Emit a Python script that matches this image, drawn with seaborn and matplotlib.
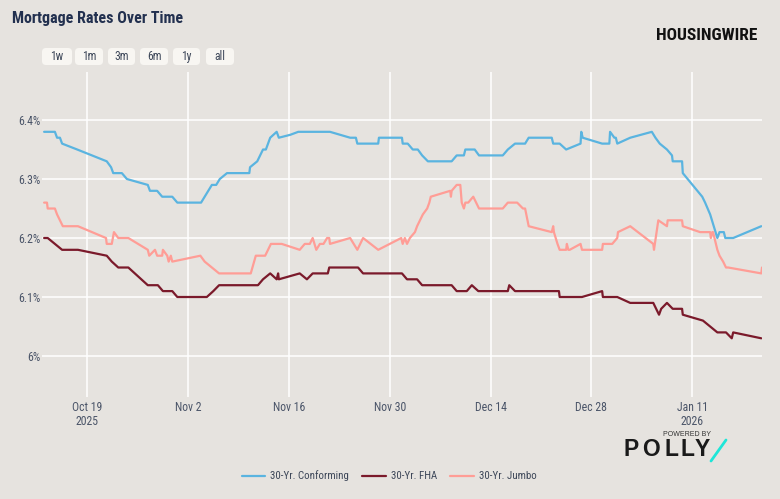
import pandas as pd
import matplotlib.pyplot as plt
import seaborn as sns
from matplotlib.patches import FancyBboxPatch
from matplotlib.lines import Line2D
from matplotlib import font_manager

# -----------------------------------------------------
# DATA (days counted from START, rates in %)
# -----------------------------------------------------
START = pd.Timestamp('2025-10-13')

conf_days = [0, 1.5, 1.8, 2.2, 2.5, 4.6, 8.7, 9.3, 9.6, 10.8, 11.5, 14.4, 14.7, 15.7,
             16.4, 17.8, 18.5, 21.8, 22.3, 23.3, 23.9, 24.4, 25.4, 28.5, 28.6, 29.6,
             30.4, 30.8, 31.4, 32.3, 32.6, 34.2, 35.3, 39.7, 42.5, 43.3, 43.5, 46.4,
             46.5, 49.7, 49.8, 50.5, 51.2, 51.9, 52.5, 53.3, 56.6, 57.3, 58.3, 58.5,
             59.8, 60.4, 63.7, 64.4, 65.4, 66.8, 67.3, 70.5, 70.7, 71.6, 72.5, 74.5,
             74.6, 74.8, 77.5, 78.5, 78.6, 79.2, 79.4, 79.6, 81.4, 84.4, 84.9, 85.5,
             86.5, 87.2, 87.3, 88.6, 88.7, 91.4, 91.8, 92.5, 93.5, 93.8, 94.4, 94.6,
             95.7, 99.6]
conf_rates = [6.38, 6.38, 6.37, 6.37, 6.36, 6.35, 6.33, 6.32, 6.31, 6.31, 6.30, 6.29, 6.28, 6.28,
              6.27, 6.27, 6.26, 6.26, 6.27, 6.29, 6.29, 6.30, 6.31, 6.31, 6.32, 6.33,
              6.35, 6.35, 6.37, 6.38, 6.37, 6.375, 6.38, 6.38, 6.37, 6.37, 6.36, 6.36,
              6.37, 6.37, 6.36, 6.36, 6.35, 6.35, 6.34, 6.33, 6.33, 6.34, 6.34, 6.35,
              6.35, 6.34, 6.34, 6.35, 6.36, 6.36, 6.37, 6.37, 6.36, 6.36, 6.35, 6.36,
              6.38, 6.37, 6.36, 6.36, 6.38, 6.37, 6.37, 6.36, 6.37, 6.38, 6.37, 6.36,
              6.35, 6.34, 6.33, 6.33, 6.31, 6.27, 6.26, 6.24, 6.20, 6.21, 6.21, 6.20,
              6.20, 6.22]

fha_days = [0, 0.5, 1.5, 2.5, 4.7, 8.7, 9.4, 10.3, 11.7, 14.4, 15.8, 16.5, 17.8, 18.5,
            22.6, 23.5, 24.3, 29.7, 30.4, 31.4, 32.3, 32.5, 32.6, 35.5, 36.5, 37.3,
            39.4, 39.6, 43.6, 44.3, 49.7, 50.4, 51.8, 52.5, 56.6, 57.3, 58.7, 59.4,
            60.3, 64.4, 64.6, 65.4, 71.5, 71.6, 74.7, 77.5, 77.6, 79.6, 81.4, 84.6,
            85.4, 85.7, 86.5, 87.3, 88.6, 88.7, 91.5, 92.5, 93.5, 94.7, 95.5, 95.7,
            99.6]
fha_rates = [6.20, 6.20, 6.19, 6.18, 6.18, 6.17, 6.16, 6.15, 6.15, 6.12, 6.12, 6.11, 6.11, 6.10,
             6.10, 6.11, 6.12, 6.12, 6.13, 6.14, 6.13, 6.14, 6.13, 6.14, 6.13, 6.14,
             6.14, 6.15, 6.15, 6.14, 6.14, 6.13, 6.13, 6.12, 6.12, 6.11, 6.11, 6.12,
             6.11, 6.11, 6.12, 6.11, 6.11, 6.10, 6.10, 6.11, 6.10, 6.10, 6.09, 6.09,
             6.07, 6.08, 6.09, 6.08, 6.08, 6.07, 6.06, 6.05, 6.04, 6.04, 6.03, 6.04,
             6.03]

jumbo_days = [0, 0.4, 0.5, 1.5, 1.8, 2.2, 2.6, 4.7, 8.6, 8.7, 9.4, 9.7, 10.3, 11.7,
              14.4, 14.6, 15.4, 15.7, 16.4, 16.5, 17.1, 17.3, 17.6, 17.8, 21.7, 22.3,
              23.3, 24.3, 28.7, 29.4, 30.7, 31.5, 33.0, 35.5, 36.2, 36.9, 37.3, 37.8,
              38.3, 38.8, 39.3, 39.6, 39.7, 42.5, 43.5, 44.3, 46.4, 49.6, 49.8, 50.1,
              50.4, 50.8, 51.5, 51.8, 52.2, 52.6, 53.2, 53.5, 53.7, 56.4, 56.5, 56.6,
              57.3, 57.8, 58.0, 58.3, 58.5, 58.9, 59.6, 60.4, 63.7, 64.4, 65.7, 66.5,
              66.8, 67.3, 70.5, 70.7, 70.8, 71.3, 71.6, 72.5, 72.6, 72.8, 73.0, 74.5,
              74.7, 77.5, 77.6, 78.9, 79.6, 79.7, 81.4, 84.6, 84.7, 85.3, 86.5, 86.6,
              88.6, 88.7, 91.1, 92.5, 92.6, 92.8, 92.9, 93.5, 93.8, 94.3, 94.7, 95.0,
              99.6, 99.7]
jumbo_rates = [6.26, 6.26, 6.25, 6.25, 6.24, 6.23, 6.22, 6.22, 6.20, 6.19, 6.19, 6.21, 6.20, 6.20,
               6.18, 6.17, 6.18, 6.17, 6.17, 6.18, 6.17, 6.16, 6.17, 6.16, 6.17, 6.16,
               6.15, 6.14, 6.14, 6.17, 6.17, 6.19, 6.19, 6.18, 6.19, 6.19, 6.20, 6.18,
               6.19, 6.19, 6.20, 6.20, 6.19, 6.20, 6.18, 6.20, 6.18, 6.20, 6.19, 6.20,
               6.19, 6.20, 6.21, 6.22, 6.23, 6.24, 6.25, 6.26, 6.27, 6.28, 6.27, 6.28,
               6.29, 6.29, 6.26, 6.25, 6.26, 6.26, 6.27, 6.25, 6.25, 6.26, 6.26, 6.25,
               6.25, 6.22, 6.21, 6.22, 6.21, 6.19, 6.18, 6.18, 6.19, 6.18, 6.18, 6.19,
               6.18, 6.18, 6.19, 6.19, 6.20, 6.21, 6.22, 6.19, 6.18, 6.23, 6.22, 6.23,
               6.23, 6.22, 6.21, 6.21, 6.20, 6.21, 6.21, 6.18, 6.17, 6.16, 6.15, 6.15,
               6.14, 6.15]

series_names = ['30-Yr. Conforming', '30-Yr. FHA', '30-Yr. Jumbo']
series_colors = ['#5ab4e0', '#7b1a2b', '#ff9d96']

tick_dates = ['2025-10-19', '2025-11-02', '2025-11-16', '2025-11-30',
              '2025-12-14', '2025-12-28', '2026-01-11']
tick_labels = ['Oct 19\n2025', 'Nov 2', 'Nov 16', 'Nov 30', 'Dec 14', 'Dec 28', 'Jan 11\n2026']
y_ticks = [6.0, 6.1, 6.2, 6.3, 6.4]
y_labels = ['6%', '6.1%', '6.2%', '6.3%', '6.4%']
buttons = ['1w', '1m', '3m', '6m', '1y', 'all']

# -----------------------------------------------------
# STYLE
# -----------------------------------------------------
BG = '#e6e3df'
TXT = '#4a5468'

# condensed face if there is one, else plain Roboto
installed = {f.name for f in font_manager.fontManager.ttflist}
narrow = [n for n in ['Roboto Condensed', 'Liberation Sans Narrow', 'DejaVu Sans Condensed']
          if n in installed]
FONT = narrow + ['Roboto', 'DejaVu Sans']
SHRINK = 1.0 if narrow else 0.88

sns.set_theme(style='whitegrid', rc={
    'axes.facecolor': BG, 'figure.facecolor': BG,
    'grid.color': 'white', 'grid.linewidth': 1.1,
})
plt.rcParams['font.family'] = FONT

frames = []
for name, days, rates in zip(series_names,
                             [conf_days, fha_days, jumbo_days],
                             [conf_rates, fha_rates, jumbo_rates]):
    frames.append(pd.DataFrame({
        'date': START + pd.to_timedelta(days, unit='D'),
        'rate': rates,
        'series': name,
    }))
df = pd.concat(frames, ignore_index=True)

fig = plt.figure(figsize=(7.8, 4.99), dpi=100)
ax = fig.add_axes([42 / 780, 1 - 397 / 499, 720 / 780, 325 / 499])

sns.lineplot(data=df, x='date', y='rate', hue='series',
             palette=dict(zip(series_names, series_colors)),
             estimator=None, sort=False, linewidth=1.6, legend=False, ax=ax)

ax.set_xlim(START - pd.Timedelta(hours=7), START + pd.Timedelta(days=99.7))
ax.set_ylim(5.9305, 6.4814)
ax.set_xticks(pd.to_datetime(tick_dates))
ax.set_xticklabels(tick_labels, linespacing=1.1)
ax.set_yticks(y_ticks)
ax.set_yticklabels(y_labels)
ax.tick_params(axis='both', length=0, labelsize=8.5 * SHRINK, labelcolor=TXT)
ax.tick_params(axis='y', pad=1)
ax.tick_params(axis='x', pad=3)
ax.set_xlabel('')
ax.set_ylabel('')
for s in ax.spines.values():
    s.set_visible(False)

# title
fig.text(12 / 780, 1 - 18 / 499, 'Mortgage Rates Over Time', fontsize=11.5 * SHRINK,
         fontweight='bold', color='#22304f', va='center', ha='left')

# range buttons
btn_x = [42, 75, 108, 140, 173, 206]
btn_w = [30, 28, 27, 28, 27, 28]
for b, bx, bw in zip(buttons, btn_x, btn_w):
    box = FancyBboxPatch((bx / 100, (499 - 65) / 100), bw / 100, 17 / 100,
                         boxstyle='round,pad=0,rounding_size=0.04',
                         transform=fig.dpi_scale_trans, fc='#f8f6f2', ec='none')
    fig.patches.append(box)
    fig.text((bx + bw / 2) / 780, 1 - 56.5 / 499, b, fontsize=8 * SHRINK + 0.3,
             color='#3c4658', ha='center', va='center')

# HOUSINGWIRE logo
fig.text(757 / 780, 1 - 35 / 499, 'HOUSINGWIRE', fontsize=12.5 if narrow else 11,
         fontweight='heavy', color='#111111', ha='right', va='center')

# legend
handles = [Line2D([], [], color=c, linewidth=1.6) for c in series_colors]
fig.legend(handles, series_names, loc='center', bbox_to_anchor=(389 / 780, 1 - 476 / 499),
           ncol=3, frameon=False, fontsize=7.8 * SHRINK, handlelength=2.2 / SHRINK,
           handletextpad=0.45, columnspacing=1.2 / SHRINK, labelcolor='#3c4658')

# POLLY logo
fig.text(687 / 780, 1 - 435 / 499, 'POWERED BY', fontsize=5, color='#333333',
         ha='center', va='center', family=['Liberation Sans', 'DejaVu Sans'])
for ch, cx in zip('POLLY', [631, 651, 671, 687, 702]):
    fig.text(cx / 780, 1 - 449 / 499, ch, fontsize=16.5, fontweight='bold',
             color='#1a1a1a', ha='center', va='center',
             family=['Liberation Sans', 'DejaVu Sans'])
fig.lines.append(Line2D([711 / 780, 726 / 780], [1 - 461 / 499, 1 - 440 / 499],
                        transform=fig.transFigure, color='#1ee6d8', linewidth=2))

plt.savefig('out.png', dpi=100, facecolor=BG)
